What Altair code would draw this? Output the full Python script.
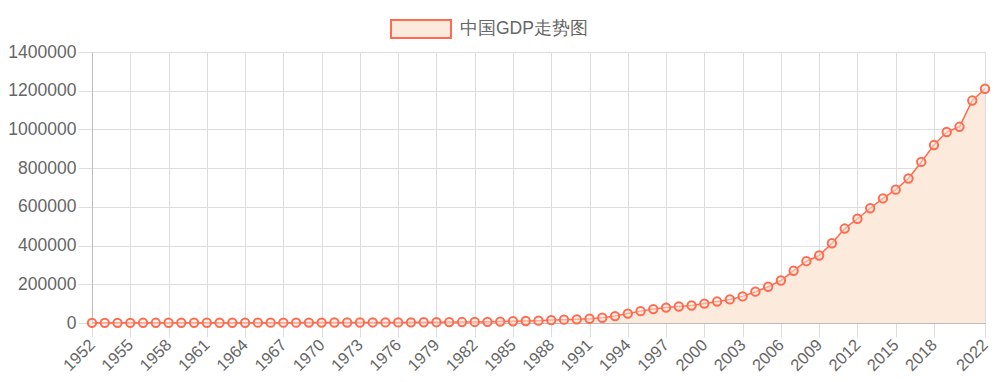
import altair as alt
import pandas as pd

years = list(range(1952, 2023))
gdp = [
    679.1, 824.4, 859.8, 911.6, 1030.7, 1071.4, 1312.3, 1447.5, 1470.1, 1232.3,
    1162.2, 1248.3, 1469.9, 1734.0, 1888.7, 1794.2, 1744.1, 1962.2, 2279.7, 2456.9,
    2552.4, 2756.2, 2827.7, 3039.5, 2988.6, 3250.0, 3678.7, 4100.5, 4587.6, 4935.8,
    5373.4, 6020.9, 7278.5, 9098.9, 10376.2, 12174.6, 15180.4, 17179.7, 18872.9, 22005.6,
    27194.5, 35673.2, 48637.5, 61339.9, 71813.6, 79715.0, 85195.5, 90564.4, 100280.1, 110863.1,
    121717.4, 137422.0, 161840.2, 187318.9, 219438.5, 270092.3, 319244.6, 348517.7, 412119.3, 487940.2,
    538580.0, 592963.2, 643563.1, 688858.2, 746395.1, 832035.9, 919281.1, 986515.2, 1013567.0, 1149237.0,
    1210207.2,
]
x_ticks = list(range(1952, 2019, 3)) + [2022]
y_ticks = list(range(0, 1400001, 200000))
series_name = "中国GDP走势图"

df = pd.DataFrame({"year": years, "gdp": gdp, "series": series_name})

LINE = "#FF6B4F"
FILL = "#FCEBDD"
FONT = "Liberation Sans"
FS = 17.5

x_enc = alt.X(
    "year:Q",
    scale=alt.Scale(domain=[1952, 2022], nice=False, zero=False),
    axis=alt.Axis(
        values=x_ticks, tickCount=200, format="d", title=None, labelAngle=-45,
        labelAlign="right", labelBaseline="middle", labelPadding=5,
        tickSize=14, tickColor="#dddddd", gridColor="#dddddd",
        domainColor="#bbbbbb", labelFontSize=16.5, labelColor="#666666",
        labelFont=FONT, labelOverlap=False, labelBound=False, labelFlush=False,
    ),
)
y_enc = alt.Y(
    "gdp:Q",
    scale=alt.Scale(domain=[0, 1400000], nice=False),
    axis=alt.Axis(
        values=y_ticks, tickCount=200, format="d", title=None, tickSize=14,
        labelPadding=2, labelOverlap=False,
        tickColor="#dddddd", gridColor="#dddddd", domainColor="#bbbbbb",
        labelFontSize=FS, labelColor="#666666", labelFont=FONT,
    ),
)

base = alt.Chart(df)

area = base.mark_area(opacity=1).encode(
    x=x_enc, y=y_enc,
    color=alt.Color(
        "series:N",
        scale=alt.Scale(range=[FILL]),
        legend=alt.Legend(
            title=None, orient="none", legendX=298, legendY=-54, padding=0,
            symbolType="M-1,-0.3L1,-0.3L1,0.3L-1,0.3Z", symbolSize=3600,
            symbolStrokeColor=LINE, symbolStrokeWidth=2, symbolFillColor=FILL,
            symbolOpacity=1, labelFontSize=FS, labelColor="#666666",
            labelFont=FONT, labelOffset=8, labelLimit=400,
        ),
    ),
)
line = base.mark_line(color=LINE, strokeWidth=1.5).encode(x="year:Q", y="gdp:Q")
points = base.mark_point(
    shape="circle", size=70, filled=False, fill=FILL, fillOpacity=0.5,
    stroke=LINE, strokeWidth=2, opacity=1,
).encode(x="year:Q", y="gdp:Q")

chart = (
    alt.layer(area, line, points)
    .properties(
        width=893, height=271,
        autosize=alt.AutoSizeParams(type="none"),
        padding={"left": 84, "top": 44, "right": 6, "bottom": 50},
    )
    .configure_view(stroke=None)
    .configure_axis(grid=True)
)

chart.save("out.html", embed_options={"renderer": "svg", "actions": False})
